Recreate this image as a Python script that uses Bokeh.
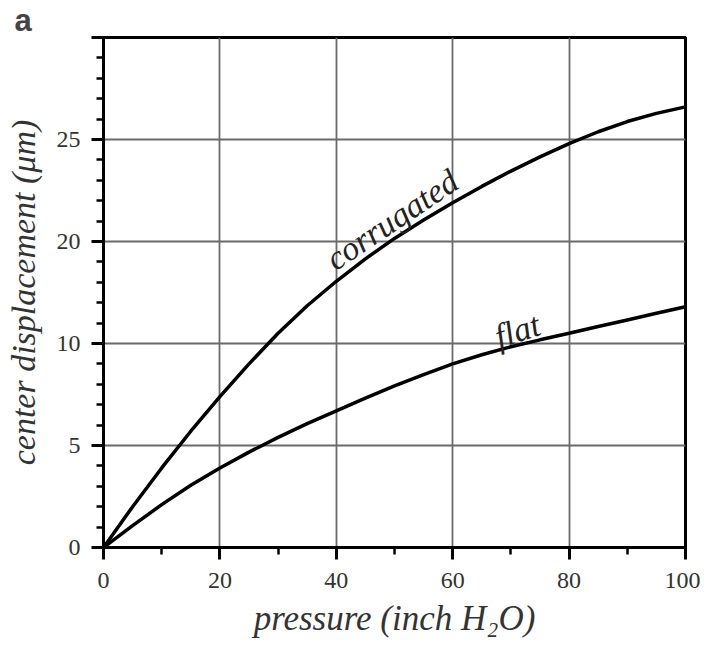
from bokeh.plotting import figure
from bokeh.models import FixedTicker, ColumnDataSource, Range1d
from bokeh.embed import file_html
from bokeh.resources import INLINE
from bokeh.core.properties import value

# ---- data ----
pressure = [0, 5, 10, 15, 20, 25, 30, 35, 40, 45, 50, 55, 60, 65, 70, 75, 80, 85, 90, 95, 100]
corrugated = [0, 2.0, 3.9, 5.7, 7.4, 9.0, 10.5, 11.85, 13.05, 14.15, 15.15, 16.05, 16.9,
              17.7, 18.45, 19.15, 19.8, 20.38, 20.88, 21.28, 21.6]
flat = [0, 1.075, 2.1, 3.05, 3.9, 4.675, 5.4, 6.075, 6.7, 7.325, 7.925, 8.475, 9.0, 9.45,
        9.84, 10.18, 10.5, 10.83, 11.155, 11.48, 11.8]

x_ticks = [0, 20, 40, 60, 80, 100]
x_minor = [0, 10, 20, 30, 40, 50, 60, 70, 80, 90, 100]
y_ticks = [0, 5, 10, 15, 20, 25]
y_tick_labels = ["0", "5", "10", "20", "25", ""]
y_minor = list(range(0, 26))

series_labels = ["corrugated", "flat"]
label_x = [38.8, 67.4]
label_y = [14.0, 10.3]

SERIF = "Liberation Serif"

p = figure(width=700, height=641, x_range=Range1d(0, 100), y_range=Range1d(0, 25),
           output_backend="svg", toolbar_location=None,
           min_border_left=103, min_border_top=0, min_border_right=15, min_border_bottom=94)
p.background_fill_color = "white"
p.border_fill_color = "white"
p.outline_line_color = "black"
p.outline_line_width = 3

# panel letter as title
p.title.text = "a"
p.title.text_font = "Liberation Sans"
p.title.text_font_style = "bold"
p.title.text_font_size = "31px"
p.title.standoff = 0
p.title.align = "left"
p.title.offset = -89

src = ColumnDataSource(dict(x=pressure, c=corrugated, f=flat))
p.line("x", "c", source=src, line_color="black", line_width=3.5)
p.line("x", "f", source=src, line_color="black", line_width=3.5)

# axes
p.xaxis.ticker = FixedTicker(ticks=x_ticks, minor_ticks=x_minor)
p.yaxis.ticker = FixedTicker(ticks=y_ticks, minor_ticks=y_minor)
p.yaxis.major_label_overrides = {t: l for t, l in zip(y_ticks, y_tick_labels)}
for ax in (p.xaxis[0], p.yaxis[0]):
    ax.axis_line_width = 3
    ax.axis_line_color = "black"
    ax.major_tick_line_width = 3
    ax.major_tick_line_color = "black"
    ax.major_tick_out = 12
    ax.major_tick_in = 0
    ax.minor_tick_line_width = 2.5
    ax.minor_tick_line_color = "black"
    ax.minor_tick_out = 7
    ax.minor_tick_in = 0
    ax.major_label_text_font = SERIF
    ax.major_label_text_font_size = "24px"
    ax.major_label_text_color = "#333333"
    ax.axis_label_text_font = SERIF
    ax.axis_label_text_font_style = "italic"
    ax.axis_label_text_color = "#333333"

p.xaxis.axis_label_text_font_size = "35px"
p.yaxis.axis_label_text_font_size = "34px"
p.xaxis.major_label_standoff = 13
p.yaxis.major_label_standoff = 11
p.xaxis.axis_label = "pressure (inch H\u2082O)"
p.yaxis.axis_label = "center displacement (\u03bcm)"
p.xaxis.axis_label_standoff = 8
p.yaxis.axis_label_standoff = 12

# grid
p.xgrid.ticker = FixedTicker(ticks=x_ticks)
p.ygrid.ticker = FixedTicker(ticks=y_ticks)
p.grid.grid_line_color = "#6a6a6a"
p.grid.grid_line_width = 1.8

# curve labels
p.text(x=[label_x[0]], y=[label_y[0]], text=[series_labels[0]], angle=0.593,
       text_font=value(SERIF), text_font_style="italic", text_font_size="34px",
       text_color="#222222", text_align="left", text_baseline="alphabetic")
p.text(x=[label_x[1]], y=[label_y[1]], text=[series_labels[1]], angle=0.314,
       text_font=value(SERIF), text_font_style="italic", text_font_size="34px",
       text_color="#222222", text_align="left", text_baseline="alphabetic")

open("out.html", "w").write(file_html(p, INLINE))
